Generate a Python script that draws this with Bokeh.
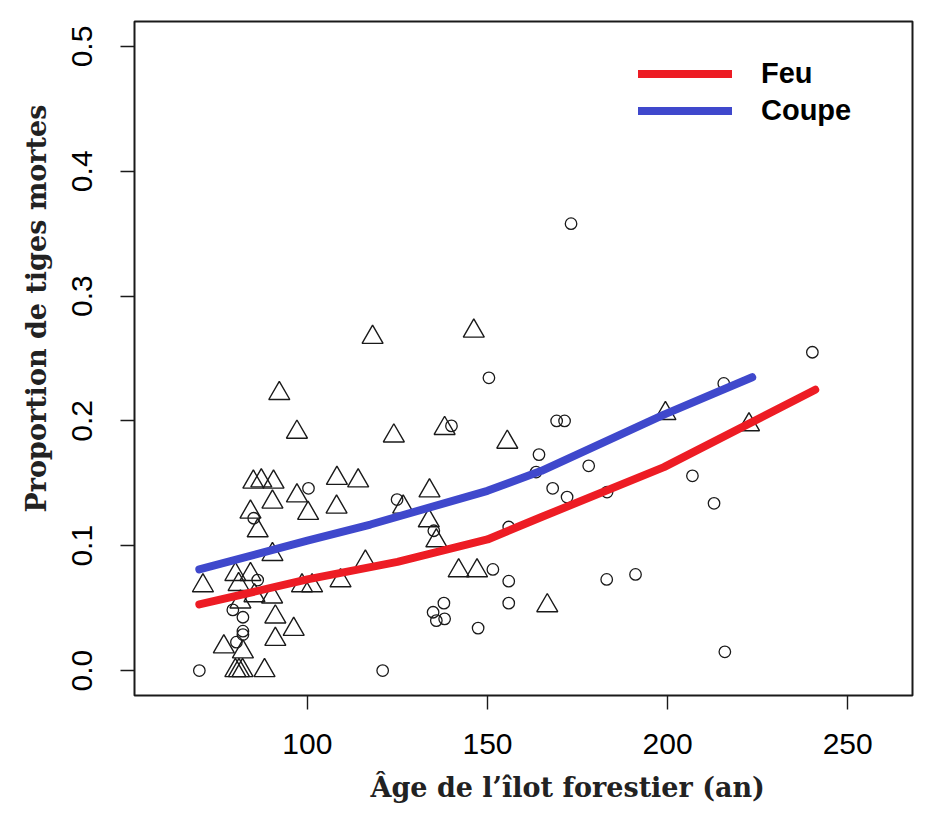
from bokeh.plotting import figure
from bokeh.models import FixedTicker, Legend, LegendItem, Range1d, ColumnDataSource, Title
from bokeh.embed import file_html
from bokeh.resources import INLINE

# ---- data ----
# Triangles: coupe (cut) stands
coupe_age = [92.2, 97.1, 85.0, 87.2, 90.6, 108.2, 114.1, 90.3, 97.1, 100.2,
             108.1, 84.2, 86.2, 90.3, 71.0, 80.0, 84.2, 80.9, 98.5, 101.3,
             90.2, 85.3, 81.4, 91.1, 96.2, 91.1, 76.8, 82.1, 80.0, 81.0,
             82.0, 88.1, 118.1, 146.2, 124.0, 138.1, 155.5, 133.9, 126.6, 133.7,
             135.8, 116.1, 109.2, 142.0, 147.1, 199.4, 222.6, 166.6]
coupe_prop = [0.222, 0.191, 0.151, 0.152, 0.151, 0.154, 0.152, 0.135, 0.140, 0.126,
              0.131, 0.127, 0.112, 0.093, 0.068, 0.077, 0.077, 0.069, 0.068, 0.068,
              0.059, 0.060, 0.055, 0.043, 0.033, 0.025, 0.019, 0.015, 0.0, 0.0,
              0.0, 0.0, 0.267, 0.272, 0.188, 0.194, 0.183, 0.144, 0.131, 0.120,
              0.104, 0.087, 0.072, 0.080, 0.080, 0.206, 0.197, 0.052]

# Circles: feu (fire) stands
feu_age = [100.3, 85.1, 86.2, 79.3, 82.1, 82.1, 82.1, 80.3, 70.0, 150.4,
           140.0, 124.9, 135.1, 151.5, 155.9, 155.9, 137.9, 134.9, 135.8, 138.1,
           147.4, 120.9, 173.2, 169.2, 171.4, 164.3, 178.1, 163.5, 168.1, 172.1,
           206.9, 240.2, 215.6, 183.2, 212.9, 183.1, 191.1, 215.9, 155.9]
feu_prop = [0.146, 0.122, 0.0725, 0.0486, 0.0427, 0.0315, 0.0288, 0.0227, 0.0, 0.2345,
            0.196, 0.137, 0.112, 0.081, 0.0716, 0.054, 0.054, 0.0467, 0.040, 0.0414,
            0.034, 0.0, 0.358, 0.200, 0.200, 0.173, 0.164, 0.159, 0.146, 0.139,
            0.156, 0.255, 0.230, 0.143, 0.134, 0.073, 0.077, 0.015, 0.115]

# Fitted curves
feu_fit_age = [70, 100, 125, 150, 165, 199, 241]
feu_fit_prop = [0.053, 0.073, 0.087, 0.105, 0.123, 0.163, 0.225]
coupe_fit_age = [70, 100, 117.5, 150, 165, 199, 223.5]
coupe_fit_prop = [0.081, 0.104, 0.117, 0.144, 0.160, 0.205, 0.235]

x_ticks = [100, 150, 200, 250]
y_ticks = [0.0, 0.1, 0.2, 0.3, 0.4, 0.5]
y_tick_labels = ["0.0", "0.1", "0.2", "0.3", "0.4", "0.5"]

legend_labels = ["Feu", "Coupe"]
x_title = "Âge de l’îlot forestier (an)"
y_title = "Proportion de tiges mortes"

RED = "#ED1C24"
BLUE = "#3F48CC"
INK = "#1a1a1a"

p = figure(width=927, height=816, output_backend="svg", toolbar_location=None,
           x_range=Range1d(52, 268), y_range=Range1d(-0.02, 0.52),
           min_border_left=134, min_border_right=15, min_border_top=21,
           min_border_bottom=121)
p.background_fill_color = "white"
p.border_fill_color = "white"
p.outline_line_color = INK
p.outline_line_width = 2
p.xgrid.visible = False
p.ygrid.visible = False

src_c = ColumnDataSource(dict(x=coupe_age, y=coupe_prop))
src_f = ColumnDataSource(dict(x=feu_age, y=feu_prop))
p.scatter("x", "y", source=src_c, marker="triangle", size=21, fill_color=None,
          line_color=INK, line_width=1.4)
p.scatter("x", "y", source=src_f, marker="circle", size=11.5, fill_color=None,
          line_color=INK, line_width=1.3)

r_feu = p.line(feu_fit_age, feu_fit_prop, line_color=RED, line_width=8, line_cap="round", line_join="round")
r_coupe = p.line(coupe_fit_age, coupe_fit_prop, line_color=BLUE, line_width=8, line_cap="round", line_join="round")

for ax in (p.xaxis[0], p.yaxis[0]):
    ax.axis_line_color = None
    ax.major_tick_line_color = INK
    ax.major_tick_line_width = 1.4
    ax.major_tick_out = 14
    ax.major_tick_in = 0
    ax.minor_tick_line_color = None
    ax.major_label_text_font = "Liberation Sans"
    ax.major_label_text_font_size = "30px"
    ax.major_label_text_color = "black"

p.xaxis[0].ticker = FixedTicker(ticks=x_ticks)
p.xaxis[0].major_label_standoff = 24

p.yaxis[0].ticker = FixedTicker(ticks=y_ticks)
p.yaxis[0].major_label_overrides = {t: s for t, s in zip(y_ticks, y_tick_labels)}
p.yaxis[0].major_label_orientation = "vertical"
p.yaxis[0].major_label_standoff = 28

xt = Title(text=x_title, align="left", offset=236, standoff=27,
           text_font="DejaVu Serif", text_font_style="bold", text_font_size="27px",
           text_color="#222222")
p.add_layout(xt, "below")
yt = Title(text=y_title, align="left", offset=183, standoff=36,
           text_font="DejaVu Serif", text_font_style="bold", text_font_size="27px",
           text_color="#222222")
p.add_layout(yt, "left")

legend = Legend(items=[LegendItem(label=legend_labels[0], renderers=[r_feu]),
                       LegendItem(label=legend_labels[1], renderers=[r_coupe])])
legend.glyph_width = 94
legend.glyph_height = 33
legend.label_standoff = 29
legend.spacing = 4
legend.padding = 0
legend.margin = 0
legend.border_line_color = None
legend.background_fill_alpha = 0
legend.label_text_font = "Liberation Sans"
legend.label_text_font_style = "bold"
legend.label_text_font_size = "29px"
legend.label_text_color = "black"
legend.location = (504, 568)
p.add_layout(legend)

open("out.html", "w").write(file_html(p, INLINE))
